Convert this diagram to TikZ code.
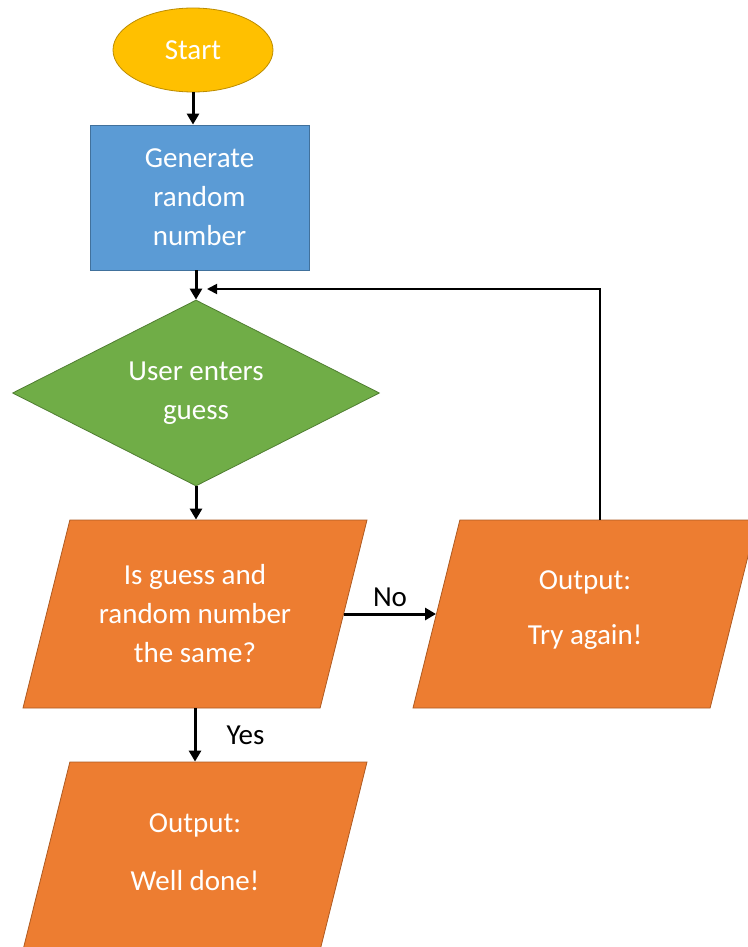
\documentclass[tikz,border=0pt]{standalone}
\usepackage{fontspec}
\setmainfont{Carlito}
\usetikzlibrary{shapes.geometric,arrows.meta,positioning}

\definecolor{startgelb}{HTML}{FFC000}
\definecolor{startrand}{HTML}{BC8C00}
\definecolor{boxblau}{HTML}{5B9BD5}
\definecolor{boxrand}{HTML}{41719C}
\definecolor{rautegruen}{HTML}{70AD47}
\definecolor{rauterand}{HTML}{507E32}
\definecolor{ausgabeorange}{HTML}{ED7D31}
\definecolor{ausgaberand}{HTML}{AE5A21}

% Text im Parallelogramm, feste Hoehe
\newcommand{\ausgabetext}[1]{\parbox[c][188pt][c]{230pt}{\centering #1}}

\tikzset{
    schrift/.style={font=\fontsize{29}{39}\selectfont},
    feld/.style={schrift, draw, line width=0.8pt, text=white, align=center},
    ausgabe/.style={feld, trapezium, trapezium stretches body, trapezium left angle=76, trapezium right angle=104,
        inner ysep=0pt, minimum width=344pt, fill=ausgabeorange, draw=ausgaberand},
    pfeil/.style={-{Triangle[length=11pt,width=12pt]}, line width=3pt},
    ruecklauf/.style={-{Triangle[length=10pt,width=10pt]}, line width=1.8pt},
    beschriftung/.style={schrift, inner sep=2pt}
}

\begin{document}
\begin{tikzpicture}[x=1pt, y=-1pt]
    \useasboundingbox (0,0) rectangle (747,947);
    % Start und Zufallszahl:
    \node[feld, ellipse, minimum width=160pt, minimum height=84pt, fill=startgelb, draw=startrand] (start) at (193,50) {Start};
    \node[feld, rectangle, minimum width=219pt, minimum height=145pt, fill=boxblau, draw=boxrand] (zufall) at (199.5,197.5) {Generate\\random\\number};
    % Eingabe:
    \node[feld, diamond, shape aspect=2, inner sep=0pt, minimum width=367pt, minimum height=186pt, fill=rautegruen, draw=rauterand] (eingabe) at (196,393) {User enters\\guess};
    % Vergleich und Ausgaben:
    \node[ausgabe] (vergleich) at (195,614) {\ausgabetext{Is guess and\\random number\\the same?}};
    \node[ausgabe] (nochmal) at (585,614) {\ausgabetext{Output:\\[16pt]Try again!\\[8pt]}};
    \node[ausgabe] (gut) at (195,856) {\ausgabetext{Output:\\[19pt]Well done!\\[8pt]}};
    % Pfeile:
    \draw[pfeil] (start) -- (start |- zufall.north);
    \draw[pfeil] (eingabe.north |- zufall.south) -- (eingabe.north);
    \draw[pfeil] (eingabe.south) -- (eingabe.south |- vergleich.north);
    \draw[pfeil] (vergleich.east) -- (nochmal.west) node[midway, beschriftung, above=4pt] (nein) {No};
    \draw[pfeil] (vergleich.south) -- (vergleich.south |- gut.north) node[midway, beschriftung, right=28pt] (ja) {Yes};
    % zurueck zur Eingabe:
    \coordinate (treffpunkt) at ([xshift=11pt]eingabe.north |- 0,289);
    \draw[ruecklauf] ([xshift=15pt]nochmal.north) |- (treffpunkt);
\end{tikzpicture}
\end{document}
